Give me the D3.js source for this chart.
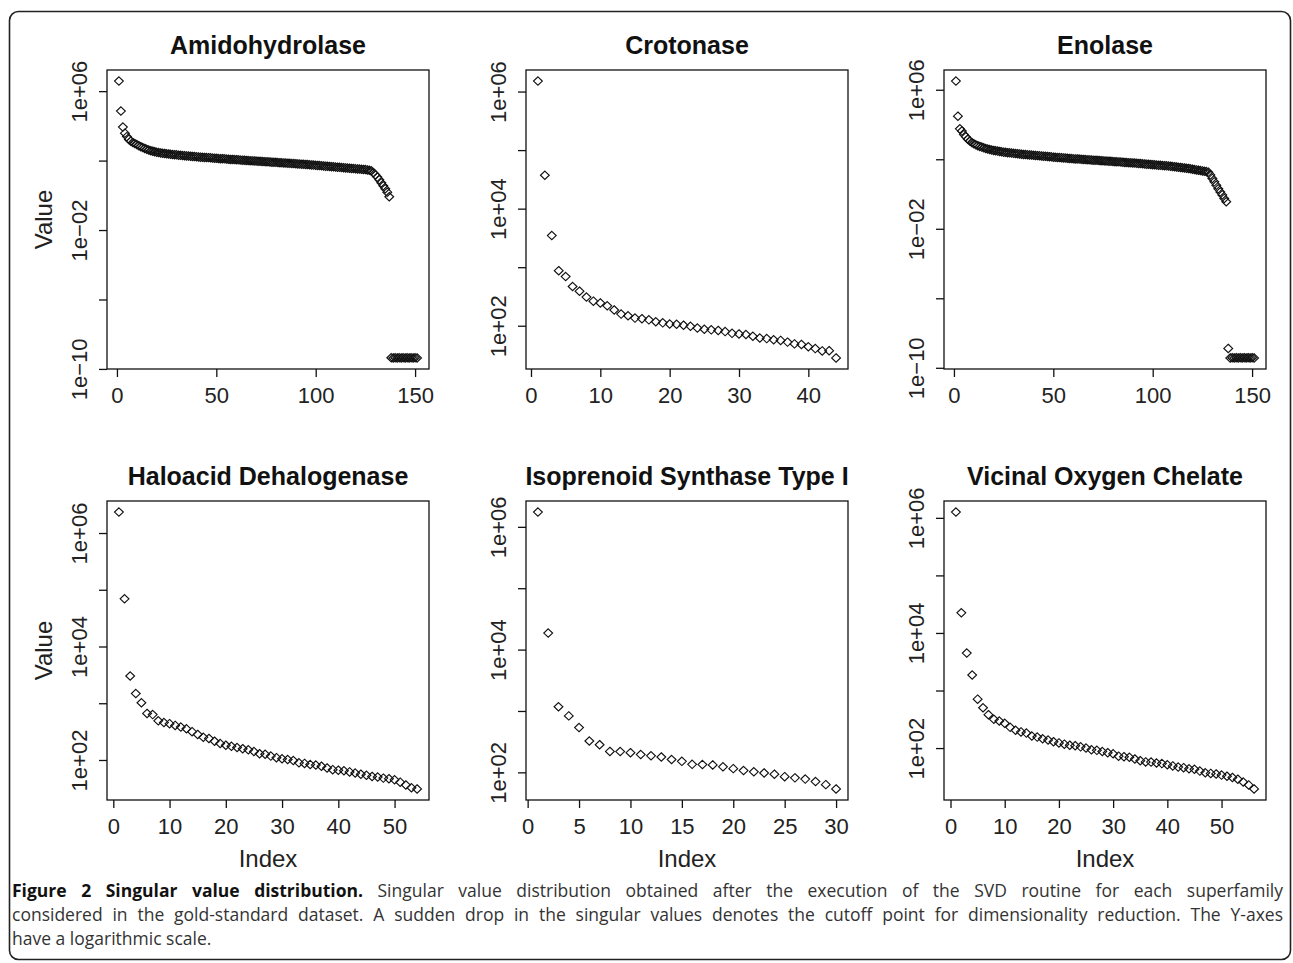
<!DOCTYPE html>
<html>
<head>
<meta charset="utf-8">
<script src="https://cdn.jsdelivr.net/npm/d3@7"></script>
<style>
  body { margin: 0; background: #fff; }
  svg { display: block; }
</style>
</head>
<body>
<svg id="fig" width="1293" height="963"></svg>
<script>
// singular values, index = position + 1
var amidohydrolase = [
  3.8e6, 7.1e4, 8.5e3, 3.8e3, 2.4e3, 1.66e3, 1.32e3, 1.10e3, 955, 832,
  724, 631, 562, 501, 447, 407, 372, 347, 324, 302,
  288, 275, 263, 257, 245, 240, 229, 224, 219, 214,
  204, 200, 195, 191, 186, 182, 178, 174, 170, 166,
  162, 158, 155, 151, 150, 148, 145, 141, 138, 135,
  132, 129, 128, 126, 123, 120, 117, 116, 115, 112,
  110, 107, 106, 105, 102, 100, 97.7, 97, 95.5, 93.3,
  91.2, 90.5, 89.1, 87.1, 85.1, 84.5, 83.2, 81.3, 79.4, 79,
  77.6, 75.9, 74.1, 73.6, 72.4, 70.8, 69.2, 67.6, 67.1, 66.1,
  64.6, 63.1, 61.7, 61.2, 60.3, 58.9, 57.5, 56.2, 55, 53.7,
  52.5, 51.3, 50.1, 49, 47.9, 46.8, 45.7, 44.7, 43.7, 42.7,
  41.7, 40.7, 39.8, 38.9, 38, 37.2, 36.3, 35.5, 34.7, 33.9,
  33.1, 32.4, 31.6, 30.9, 30.2, 28.8, 27.5, 25.7, 20, 15.1,
  11.2, 7.94, 5.25, 3.55, 2.4, 1.51, 0.83,
  4.4e-10, 4.3e-10, 4.4e-10, 4.3e-10, 4.4e-10, 4.3e-10, 4.4e-10,
  4.3e-10, 4.4e-10, 4.3e-10, 4.4e-10, 4.3e-10, 4.4e-10, 4.3e-10
];
var crotonase = [
  1.51e6, 3.72e4, 3.47e3, 871, 692, 468, 389, 309, 263, 245,
  219, 186, 158, 148, 135, 132, 126, 117, 112, 107,
  106, 102, 97.7, 91.2, 87.1, 85.1, 83.2, 79.4, 74.1, 72.4,
  70.8, 66.1, 61.7, 60.3, 57.5, 56.2, 52.5, 49, 47.9, 43.7,
  40.7, 37.2, 37.5, 28.2
];
var enolase = [
  3.16e6, 3.02e4, 5.62e3, 4.17e3, 2.63e3, 1.95e3, 1.41e3, 1.12e3, 912, 776,
  676, 603, 550, 501, 457, 417, 389, 363, 339, 324,
  309, 295, 282, 269, 257, 251, 240, 234, 229, 219,
  214, 209, 204, 195, 191, 186, 182, 178, 174, 170,
  166, 162, 158, 155, 151, 148, 145, 141, 138, 132,
  129, 126, 125, 123, 120, 117, 115, 112, 110, 107,
  105, 104, 102, 100, 97.7, 95.5, 93.3, 92.8, 91.2, 89.1,
  87.1, 86.6, 85.1, 83.2, 81.3, 79.4, 78.9, 77.6, 75.9, 74.1,
  72.4, 71.9, 70.8, 69.2, 67.6, 66.1, 64.6, 63.1, 62.7, 61.7,
  60.3, 58.9, 57.5, 56.2, 55, 53.7, 52.5, 51.3, 50.1, 49,
  47.9, 46.8, 45.7, 44.7, 43.7, 42.7, 41.7, 40.7, 39.8, 38,
  37.2, 36.3, 34.7, 33.9, 32.4, 31.6, 30.2, 29.5, 28.2, 26.9,
  25.7, 24.5, 23.4, 22.4, 21.4, 20.4, 19.5, 18.2, 12.6, 7.94,
  5.01, 3.16, 2.0, 1.32, 0.89, 0.56, 0.36,
  1.3e-9,
  3.7e-10, 3.8e-10, 3.7e-10, 3.8e-10, 3.7e-10, 3.8e-10, 3.7e-10,
  3.8e-10, 3.7e-10, 3.8e-10, 3.7e-10, 3.8e-10, 3.7e-10
];
var haloacid = [
  2.34e6, 6.92e4, 3.02e3, 1.48e3, 1.02e3, 661, 631, 490, 457, 437,
  407, 380, 355, 316, 282, 251, 240, 214, 195, 182,
  174, 166, 158, 151, 141, 129, 126, 117, 110, 105,
  102, 97.7, 89.1, 87.1, 83.2, 81.3, 77.6, 72.4, 67.6, 66.1,
  64.6, 61.7, 58.9, 56.2, 53.7, 51.3, 50.1, 47.9, 46.8, 44.7,
  40.7, 36.3, 32.4, 30.9
];
var isoprenoid = [
  1.74e6, 1.86e4, 1.17e3, 832, 537, 324, 282, 219, 218, 209,
  195, 186, 178, 162, 151, 135, 134, 132, 123, 115,
  107, 102, 97.7, 93.3, 85.1, 81.3, 77.6, 70.8, 63.1, 53.7
];
var vicinal = [
  1.26e6, 2.24e4, 4.47e3, 1.86e3, 708, 501, 380, 316, 295, 269,
  229, 204, 191, 182, 162, 155, 145, 138, 129, 123,
  117, 112, 110, 105, 100, 93.3, 91.2, 87.1, 83.2, 79.4,
  72.4, 70.8, 69.2, 64.6, 60.3, 57.5, 57, 55, 53.7, 51.3,
  49, 46.8, 45.7, 43.7, 42.7, 39.8, 37.2, 36.3, 35.5, 33.9,
  32.4, 30.9, 28.8, 25.7, 22.9, 19.5
];

var titles = ["Amidohydrolase", "Crotonase", "Enolase",
              "Haloacid Dehalogenase", "Isoprenoid Synthase Type I", "Vicinal Oxygen Chelate"];
var series = [amidohydrolase, crotonase, enolase, haloacid, isoprenoid, vicinal];

var xTicksWide = [0, 50, 100, 150];
var xTicksCroto = [0, 10, 20, 30, 40];
var xTicksFifty = [0, 10, 20, 30, 40, 50];
var xTicksIso = [0, 5, 10, 15, 20, 25, 30];
var xTickSets = [xTicksWide, xTicksCroto, xTicksWide, xTicksFifty, xTicksIso, xTicksFifty];

// every tick gets a mark, only some get a label (as in the original)
var yTicksDeep = [1e6, 1e2, 1e-2, 1e-6, 1e-10];
var yLabelsDeep = ["1e+06", "", "1e\u221202", "", "1e\u221210"];
var yTicksShallow = [1e6, 1e5, 1e4, 1e3, 1e2];
var yLabelsShallow = ["1e+06", "", "1e+04", "", "1e+02"];
var yTickSets = [yTicksDeep, yTicksShallow, yTicksDeep, yTicksShallow, yTicksShallow, yTicksShallow];
var yLabelSets = [yLabelsDeep, yLabelsShallow, yLabelsDeep, yLabelsShallow, yLabelsShallow, yLabelsShallow];

var captionLines = [
  [["Figure 2 Singular value distribution.", true],
   [" Singular value distribution obtained after the execution of the SVD routine for each superfamily", false]],
  [["considered in the gold-standard dataset. A sudden drop in the singular values denotes the cutoff point for dimensionality reduction. The Y-axes", false]],
  [["have a logarithmic scale.", false]]
];

var svg = d3.select("#fig");
var ink = "#111";
var plotFont = "'Liberation Sans', Arial, Helvetica, sans-serif";

svg.append("rect")
    .attr("x", 9.5).attr("y", 11.5)
    .attr("width", 1281).attr("height", 948)
    .attr("rx", 9)
    .attr("fill", "none")
    .attr("stroke", "#222")
    .attr("stroke-width", 1.6);

var colLeft = [107, 526, 944],
    rowTop = [70, 501],
    boxW = 322,
    boxH = 299;

var diamond = function(cx, cy) {
  var w = 4.4, h = 4.2;
  return "M" + cx + "," + (cy - h) + "L" + (cx + w) + "," + cy +
         "L" + cx + "," + (cy + h) + "L" + (cx - w) + "," + cy + "Z";
};

series.forEach(function(vals, k) {
  var col = k % 3, row = Math.floor(k / 3);
  var g = svg.append("g")
      .attr("transform", "translate(" + colLeft[col] + "," + rowTop[row] + ")");

  var n = vals.length;
  var padX = 0.04 * (n - 1);
  var x = d3.scaleLinear().domain([1 - padX, n + padX]).range([0, boxW]);

  var ext = d3.extent(vals);
  var lo = Math.log10(ext[0]), hi = Math.log10(ext[1]);
  var padY = 0.04 * (hi - lo);
  var y = d3.scaleLog()
      .domain([Math.pow(10, lo - padY), Math.pow(10, hi + padY)])
      .range([boxH, 0]);

  g.append("g")
      .attr("class", "points")
    .selectAll("path")
    .data(vals)
    .enter().append("path")
      .attr("d", function(d, i) { return diamond(x(i + 1), y(d)); })
      .attr("fill", "none")
      .attr("stroke", ink)
      .attr("stroke-width", 1.15);

  g.append("rect")
      .attr("width", boxW).attr("height", boxH)
      .attr("fill", "none")
      .attr("stroke", ink)
      .attr("stroke-width", 1.3);

  var xAxis = g.append("g")
      .attr("transform", "translate(0," + boxH + ")")
      .call(d3.axisBottom(x).tickValues(xTickSets[k]).tickSize(8).tickSizeOuter(0));
  xAxis.select(".domain").remove();
  xAxis.selectAll("line").attr("stroke", ink).attr("stroke-width", 1.3);
  xAxis.selectAll("text")
      .attr("y", 26).attr("dy", "0.35em")
      .attr("fill", "#222")
      .style("font-family", plotFont)
      .style("font-size", "22px");

  var ticks = yTickSets[k], labels = yLabelSets[k];
  var yAxis = g.append("g")
      .call(d3.axisLeft(y).tickValues(ticks).tickSize(8).tickSizeOuter(0)
        .tickFormat(function(d, i) { return labels[i]; }));
  yAxis.select(".domain").remove();
  yAxis.selectAll("line").attr("stroke", ink).attr("stroke-width", 1.3);
  yAxis.selectAll("text")
      .attr("x", 0).attr("dy", null)
      .attr("text-anchor", "middle")
      .attr("dominant-baseline", "central")
      .attr("transform", "translate(-28,0) rotate(-90)")
      .attr("fill", "#222")
      .style("font-family", plotFont)
      .style("font-size", "22px");

  g.append("text")
      .attr("x", boxW / 2).attr("y", -25)
      .attr("text-anchor", "middle")
      .attr("dominant-baseline", "central")
      .attr("fill", "#111")
      .style("font-family", plotFont)
      .style("font-weight", "bold")
      .style("font-size", "25px")
      .text(titles[k]);

  if (col === 0) {
    g.append("text")
        .attr("transform", "translate(-64," + (boxH / 2) + ") rotate(-90)")
        .attr("text-anchor", "middle")
        .attr("dominant-baseline", "central")
        .attr("fill", "#222")
        .style("font-family", plotFont)
        .style("font-size", "24px")
        .text("Value");
  }
  if (row === 1) {
    g.append("text")
        .attr("x", boxW / 2).attr("y", boxH + 58)
        .attr("text-anchor", "middle")
        .attr("dominant-baseline", "central")
        .attr("fill", "#222")
        .style("font-family", plotFont)
        .style("font-size", "24px")
        .text("Index");
  }
});

// caption, first two lines justified to the full width
var capLeft = 12, capWidth = 1271;
captionLines.forEach(function(parts, li) {
  var t = svg.append("text")
      .attr("x", capLeft).attr("y", 897 + li * 24)
      .attr("fill", "#333")
      .style("font-family", "'Open Sans', 'Noto Sans', sans-serif")
      .style("font-size", "17.5px");
  parts.forEach(function(p) {
    t.append("tspan")
        .style("font-weight", p[1] ? "bold" : "normal")
        .attr("fill", p[1] ? "#111" : "#333")
        .text(p[0]);
  });
  if (li < 2) {
    var natural = t.node().getComputedTextLength();
    var spaces = parts.map(function(p) { return p[0]; }).join("").split(" ").length - 1;
    t.style("word-spacing", ((capWidth - natural) / spaces) + "px");
  }
});
</script>
</body>
</html>
